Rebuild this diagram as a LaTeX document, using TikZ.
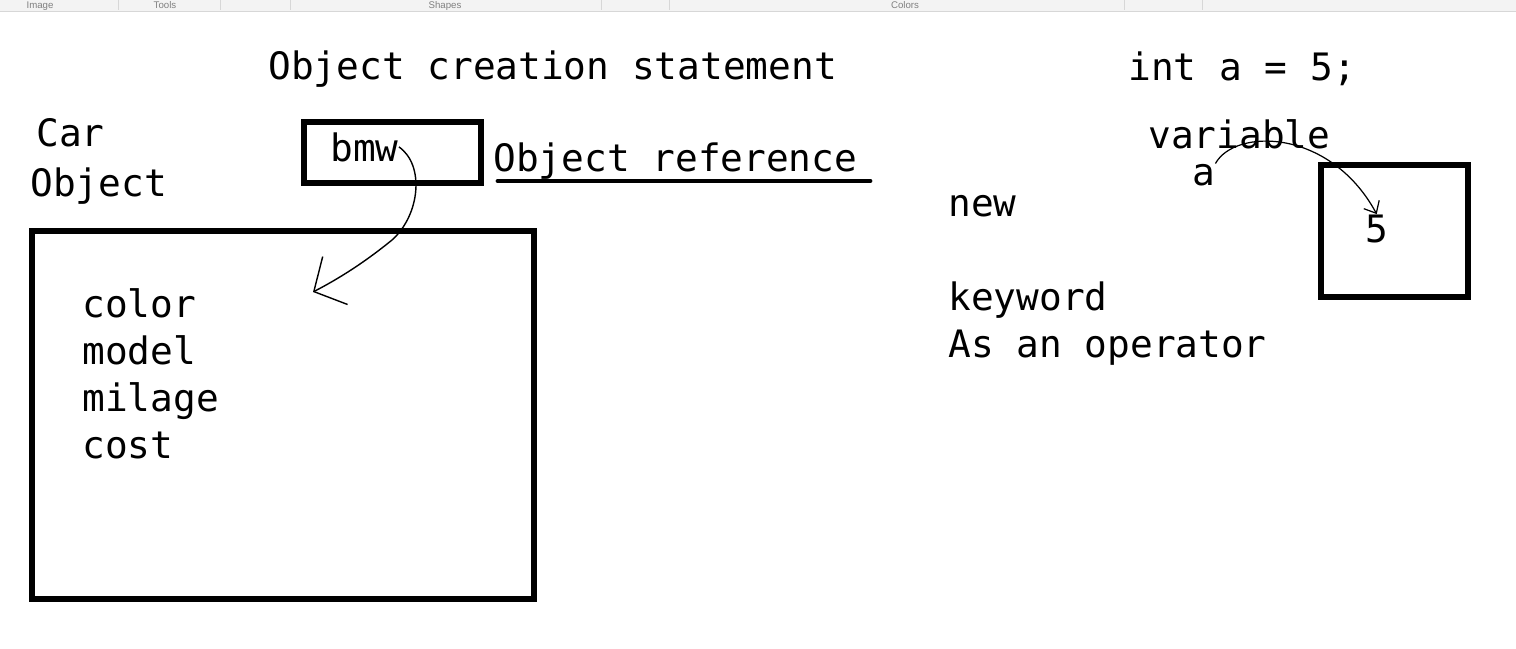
\documentclass[tikz,border=0pt]{standalone}
\usepackage{fontspec}
\setmonofont{DejaVu Sans Mono}
\setsansfont{Liberation Sans}
\usetikzlibrary{positioning,arrows.meta}
\definecolor{barGray}{RGB}{243,243,243}
\definecolor{barLine}{RGB}{215,215,215}

\begin{document}
\begin{tikzpicture}[
    x=0.02cm, y=-0.02cm,
    board text/.style={font=\ttfamily\fontsize{21.5}{26}\selectfont, inner sep=0pt, anchor=base west},
    bar text/.style={font=\sffamily\fontsize{5.5}{6}\selectfont, text=gray, inner sep=0pt, anchor=base},
    frame box/.style={draw, line width=3.4pt, inner sep=0pt},
    hand arrow/.style={draw, line width=0.8pt, -{Straight Barb[length=4.8mm,width=10.8mm,line width=0.8pt]}},
    small arrow/.style={draw, line width=0.7pt, -{Straight Barb[length=2mm,width=3.5mm,line width=0.7pt]}},
    under line/.style={line width=2.8pt, line cap=round}
]
  \useasboundingbox (0,0) rectangle (1516,649);
  \fill[white] (0,0) rectangle (1516,649);

  % ribbon strip at the top
  \fill[barGray] (0,0) rectangle (1516,11);
  \draw[barLine] (0,11) -- (1516,11);
  \foreach \sx in {118,220,290,601,669,1124,1202}
    \draw[barLine] (\sx,0) -- (\sx,10);
  \node[bar text] (barimage)  at (40,9) {Image};
  \node[bar text] (bartools)  at (165,9) {Tools};
  \node[bar text] (barshapes) at (445,9) {Shapes};
  \node[bar text] (barcolors) at (905,9) {Colors};

  % left part: object and its reference
  \node[board text] (title) at (268,79) {Object creation statement};
  \node[board text] (carlabel) at (36,146) {Car};
  \node[board text] (objlabel) at (30,196) {Object};

  \node[frame box, minimum width=3.54cm, minimum height=1.22cm] (bmwbox) at (392.5,152.5) {};
  \node[board text] (bmw) at (330,161) {bmw};
  \node[board text] (objref) at (493,171) {Object reference};
  \draw[under line] ([shift={(5,10)}]objref.base west) -- ++(372,0);

  \node[frame box, minimum width=10.04cm, minimum height=7.36cm] (objbox) at (283,415) {};
  \node[board text] (color)  at (82,317) {color};
  \node[board text] (model)  at (82,364) {model};
  \node[board text] (milage) at (82,411) {milage};
  \node[board text] (cost)   at (82,458) {cost};

  \coordinate (objhead) at (313,292);
  \draw[hand arrow] (bmw.east) .. controls (425,165) and (420,215) .. (392,240)
    .. controls (365,262) and (340,278) .. (objhead);

  % middle part: new keyword
  \node[board text] (newkw) at (948,216) {new};
  \node[board text] (keyword) at (948,310) {keyword};
  \node[board text] (operator) at (948,357) {As an operator};

  % right part: primitive variable
  \node[board text] (intdecl) at (1128,80) {int a = 5;};
  \node[board text] (varlabel) at (1148,148) {variable};
  \node[board text] (avar) at (1192,185) {a};
  \node[frame box, minimum width=2.94cm, minimum height=2.64cm] (varbox) at (1394.5,231) {};
  \node[board text] (five) at (1365,242) {5};

  \draw[small arrow] (avar.north east) .. controls (1235,128) and (1330,128) .. (five.north);
\end{tikzpicture}
\end{document}
